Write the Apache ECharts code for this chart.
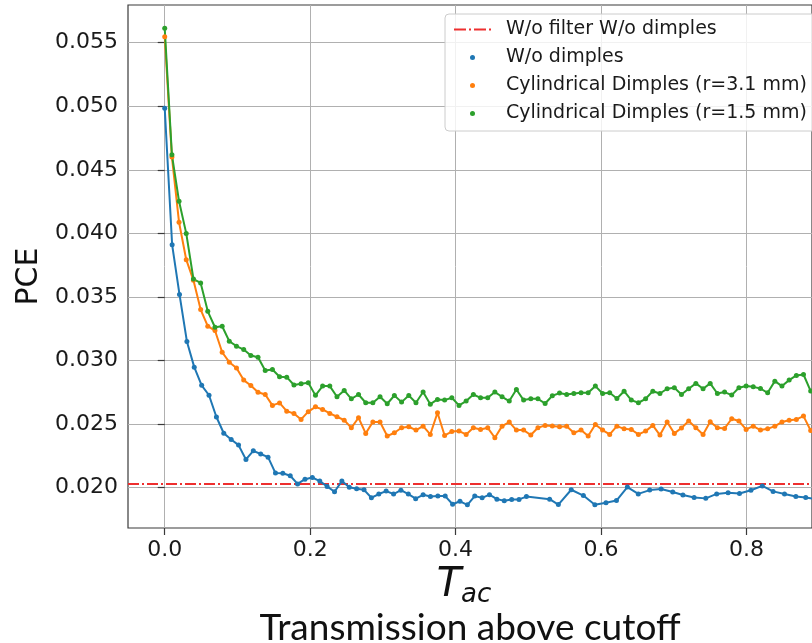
<!DOCTYPE html>
<html><head><meta charset="utf-8">
<script src="https://cdn.jsdelivr.net/npm/echarts@6/dist/echarts.min.js"></script>
<style>html,body{margin:0;padding:0;background:#fff}#c{width:812px;height:643px}</style>
</head><body><div id="c"></div><script>
// Transmission above cutoff (x) for the dimpled runs
const tacDimples = [0, 0.0099, 0.0197, 0.0296, 0.0395, 0.0494, 0.0592, 0.0691, 0.079, 0.0888,
  0.0987, 0.1086, 0.1184, 0.1283, 0.1382, 0.1481, 0.1579, 0.1678, 0.1777, 0.1875,
  0.1974, 0.2073, 0.2171, 0.227, 0.2369, 0.2468, 0.2566, 0.2665, 0.2764, 0.2862,
  0.2961, 0.306, 0.3158, 0.3257, 0.3356, 0.3455, 0.3553, 0.3652, 0.3751, 0.3849,
  0.3948, 0.4047, 0.4145, 0.4244, 0.4343, 0.4442, 0.454, 0.4639, 0.4738, 0.4836,
  0.4935, 0.5034, 0.5132, 0.5231, 0.533, 0.5429, 0.5527, 0.5626, 0.5725, 0.5823,
  0.5922, 0.6021, 0.6119, 0.6218, 0.6317, 0.6416, 0.6514, 0.6613, 0.6712, 0.681,
  0.6909, 0.7008, 0.7106, 0.7205, 0.7304, 0.7403, 0.7501, 0.76, 0.7699, 0.7797,
  0.7896, 0.7995, 0.8093, 0.8192, 0.8291, 0.839, 0.8488, 0.8587, 0.8686, 0.8784,
  0.8883];
// Transmission above cutoff (x) for the run without dimples
const tacPlain = [0, 0.0102, 0.0203, 0.0305, 0.0406, 0.0508, 0.0609, 0.0711, 0.0812, 0.0914,
  0.1015, 0.1117, 0.1218, 0.132, 0.1421, 0.1523, 0.1624, 0.1726, 0.1827, 0.1929,
  0.203, 0.2132, 0.2233, 0.2335, 0.2436, 0.2538, 0.2639, 0.2741, 0.2842, 0.2944,
  0.3045, 0.3147, 0.3248, 0.335, 0.3451, 0.3553, 0.3654, 0.3756, 0.3857, 0.3959,
  0.406, 0.4162, 0.4263, 0.4365, 0.4466, 0.4568, 0.4669, 0.4771, 0.4872, 0.4974,
  0.5293, 0.5413, 0.559, 0.5757, 0.5915, 0.6068, 0.6212, 0.6362, 0.6512, 0.6669,
  0.6826, 0.6986, 0.7126, 0.728, 0.744, 0.759, 0.7747, 0.7904, 0.8061, 0.8218,
  0.8366, 0.8523, 0.8679, 0.8815, 0.897];
const pceNoDimples = [0.04984, 0.0391, 0.0352, 0.0315, 0.02948, 0.02805, 0.02727, 0.02556, 0.02428, 0.02379,
  0.02335, 0.02222, 0.0229, 0.02265, 0.0224, 0.02115, 0.02113, 0.02094, 0.0203, 0.02067,
  0.0208, 0.02052, 0.0201, 0.01968, 0.02052, 0.02003, 0.01992, 0.01983, 0.01921, 0.0195,
  0.01973, 0.0195, 0.0198, 0.0195, 0.01914, 0.01944, 0.0193, 0.01934, 0.01934, 0.0187,
  0.01893, 0.01865, 0.01934, 0.0192, 0.01945, 0.0191, 0.01898, 0.01908, 0.01908, 0.0193,
  0.0191, 0.01867, 0.01984, 0.01938, 0.01866, 0.01882, 0.01899, 0.02005, 0.01951, 0.01981,
  0.0199, 0.01966, 0.01942, 0.01923, 0.01916, 0.01951, 0.0196, 0.01954, 0.0198, 0.02014,
  0.01971, 0.01951, 0.01931, 0.01923, 0.0191];
const pceDimples31 = [0.05547, 0.046, 0.04087, 0.03793, 0.03631, 0.03401, 0.0327, 0.03236, 0.03065, 0.02987,
  0.02942, 0.02846, 0.02804, 0.02751, 0.02733, 0.02647, 0.02667, 0.02602, 0.02584, 0.02537,
  0.02598, 0.02636, 0.02615, 0.02584, 0.02558, 0.02531, 0.02471, 0.0255, 0.02427, 0.02516,
  0.02516, 0.02406, 0.02432, 0.02471, 0.02479, 0.02453, 0.02484, 0.02419, 0.02589, 0.02411,
  0.02441, 0.02445, 0.02419, 0.02471, 0.02458, 0.02471, 0.02393, 0.02484, 0.02516, 0.02453,
  0.02453, 0.02414, 0.02471, 0.0249, 0.02485, 0.02479, 0.02484, 0.02432, 0.02453, 0.02406,
  0.02497, 0.02453, 0.02419, 0.02484, 0.02463, 0.02458, 0.02419, 0.02445, 0.0249, 0.02414,
  0.02516, 0.02427, 0.0247, 0.02524, 0.02471, 0.02419, 0.02518, 0.02471, 0.02466, 0.02542,
  0.02524, 0.02458, 0.02484, 0.02453, 0.02463, 0.02484, 0.02516, 0.02531, 0.02537, 0.02563,
  0.0245];
const pceDimples15 = [0.05613, 0.04618, 0.04252, 0.04, 0.03641, 0.0361, 0.03387, 0.03262, 0.0327, 0.03152,
  0.03113, 0.03086, 0.03039, 0.03026, 0.02921, 0.02929, 0.02872, 0.02869, 0.02808, 0.02818,
  0.02825, 0.02726, 0.02799, 0.02799, 0.02715, 0.02765, 0.02699, 0.02733, 0.02668, 0.02668,
  0.02715, 0.0266, 0.02725, 0.02673, 0.02725, 0.02668, 0.02752, 0.02657, 0.02694, 0.02689,
  0.02707, 0.02647, 0.02681, 0.02733, 0.02707, 0.02707, 0.02752, 0.02715, 0.02681, 0.02772,
  0.02689, 0.02699, 0.02699, 0.02662, 0.02723, 0.02744, 0.02733, 0.02741, 0.02746, 0.02746,
  0.02799, 0.02741, 0.02746, 0.02702, 0.02759, 0.02689, 0.02668, 0.02699, 0.02759, 0.02741,
  0.02778, 0.02786, 0.02733, 0.02778, 0.0282, 0.02778, 0.0282, 0.02741, 0.02752, 0.02728,
  0.02786, 0.02799, 0.02793, 0.0278, 0.02746, 0.02838, 0.02799, 0.02846, 0.02883, 0.0289,
  0.0276];
const refPCE = 0.0203; // W/o filter W/o dimples (constant reference level)
const seriesNames = ['W/o filter W/o dimples', 'W/o dimples',
  'Cylindrical Dimples (r=3.1 mm)', 'Cylindrical Dimples (r=1.5 mm)'];
const xTicks = [0, 0.2, 0.4, 0.6, 0.8];
const yTicks = [0.02, 0.025, 0.03, 0.035, 0.04, 0.045, 0.05, 0.055];
const xMin = -0.0505, xMax = 0.8901, yMin = 0.01683, yMax = 0.05796;

const colors = ['#ee2f2f', '#1f77b4', '#ff7f0e', '#2ca02c'];
const FONT = 'DejaVu Sans';
const zip = (xs, ys) => ys.map((y, i) => [xs[i], y]);
const dashDot = [11, 3, 2, 3];

function dotSeries(name, color, data) {
  return {
    name, type: 'line', data, symbol: 'circle', symbolSize: 5, showSymbol: true,
    itemStyle: { color }, lineStyle: { color, width: 2 },
    emphasis: { disabled: true }, animation: false
  };
}

const chart = echarts.init(document.getElementById('c'), null, { renderer: 'canvas' });
chart.setOption({
  animation: false,
  grid: { left: 128, top: 5, right: -5, bottom: 115, show: true, borderColor: '#3a3a3a', borderWidth: 1.2, backgroundColor: 'transparent' },
  title: {
    text: 'Transmission above cutoff', left: 465, top: 605, textAlign: 'center',
    textStyle: { fontFamily: 'Lato', fontSize: 37, fontWeight: 'normal', color: '#111' }
  },
  legend: {
    left: 445, top: 14, orient: 'vertical',
    padding: [6, 70, 8, 9], itemGap: 9, itemWidth: 37, itemHeight: 5,
    backgroundColor: 'rgba(255,255,255,0.82)', borderColor: '#cccccc', borderWidth: 1, borderRadius: 4,
    textStyle: { fontFamily: FONT, fontSize: 19, lineHeight: 19, color: '#1a1a1a', padding: [0, 0, 0, 10] },
    data: [
      { name: seriesNames[0], icon: 'path://M0,0H12V2H0Z M15,0H17V2H15Z M20,0H32V2H20Z M35,0H37V2H35Z' },
      { name: seriesNames[1], icon: 'circle' },
      { name: seriesNames[2], icon: 'circle' },
      { name: seriesNames[3], icon: 'circle' }
    ],
    selectedMode: false
  },
  xAxis: {
    type: 'value', min: xMin, max: xMax,
    name: '{t|T}{s|ac}', nameLocation: 'middle', nameGap: 20,
    nameTextStyle: {
      padding: [0, 12, 0, 0],
      rich: {
        t: { fontFamily: FONT, fontSize: 40, fontStyle: 'italic', color: '#111', lineHeight: 44 },
        s: { fontFamily: FONT, fontSize: 26, fontStyle: 'italic', color: '#111', lineHeight: 44, verticalAlign: 'bottom' }
      }
    },
    axisLine: { show: false },
    axisTick: { show: true, inside: false, length: 7, customValues: xTicks, lineStyle: { color: '#3a3a3a', width: 1.2 } },
    axisLabel: { customValues: xTicks, margin: 11, fontFamily: FONT, fontSize: 22, color: '#1a1a1a', formatter: v => v.toFixed(1) },
    splitLine: { show: true, lineStyle: { color: '#b0b0b0', width: 1 } }
  },
  yAxis: {
    type: 'value', min: yMin, max: yMax,
    name: 'PCE', nameLocation: 'middle', nameGap: 80,
    nameTextStyle: { fontFamily: FONT, fontSize: 30, color: '#111', padding: [0, 20, 0, 0] },
    axisLine: { show: false },
    axisTick: { show: true, inside: false, length: 7, customValues: yTicks, lineStyle: { color: '#3a3a3a', width: 1.2 } },
    axisLabel: { customValues: yTicks, margin: 10, fontFamily: FONT, fontSize: 22, color: '#1a1a1a', formatter: v => v.toFixed(3) },
    splitLine: { show: true, lineStyle: { color: '#b0b0b0', width: 1 } }
  },
  series: [
    {
      name: seriesNames[0], type: 'line', symbol: 'none',
      data: [[xMin, refPCE], [xMax, refPCE]],
      itemStyle: { color: colors[0] }, lineStyle: { color: colors[0], width: 2, type: dashDot },
      emphasis: { disabled: true }
    },
    dotSeries(seriesNames[1], colors[1], zip(tacPlain, pceNoDimples)),
    dotSeries(seriesNames[2], colors[2], zip(tacDimples, pceDimples31)),
    dotSeries(seriesNames[3], colors[3], zip(tacDimples, pceDimples15))
  ]
});
</script></body></html>
